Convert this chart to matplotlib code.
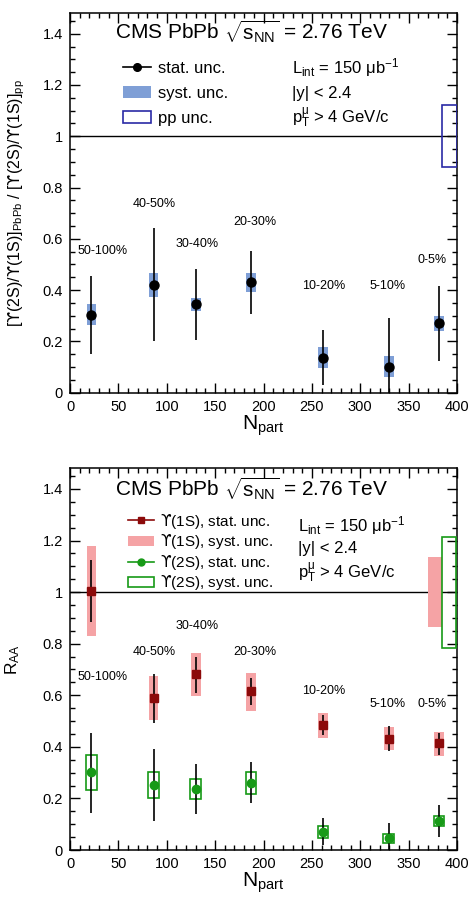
import matplotlib
matplotlib.use("agg")
import matplotlib.pyplot as plt
from matplotlib.lines import Line2D
from matplotlib.patches import Patch
from matplotlib.ticker import MultipleLocator

plt.rcParams["font.family"] = ["Liberation Sans", "DejaVu Sans"]
plt.rcParams["mathtext.fontset"] = "custom"
plt.rcParams["mathtext.rm"] = "Liberation Sans"
plt.rcParams["mathtext.it"] = "Liberation Sans"
plt.rcParams["mathtext.sf"] = "DejaVu Sans"  # used for the hooked upsilon

# --- data ---
npart = [22.1, 86.3, 130.0, 187.1, 261.4, 329.4, 381.3]
centrality = ["50-100%", "40-50%", "30-40%", "20-30%", "10-20%", "5-10%", "0-5%"]

# double ratio [Y(2S)/Y(1S)]_PbPb / [Y(2S)/Y(1S)]_pp
dr_val = [0.304, 0.421, 0.345, 0.430, 0.137, 0.102, 0.271]
dr_stat_lo = [0.150, 0.200, 0.207, 0.306, 0.030, 0.000, 0.124]
dr_stat_hi = [0.457, 0.641, 0.483, 0.553, 0.246, 0.291, 0.416]
dr_syst_lo = [0.264, 0.373, 0.319, 0.391, 0.097, 0.060, 0.240]
dr_syst_hi = [0.345, 0.468, 0.370, 0.468, 0.179, 0.145, 0.300]
pp_unc = [0.88, 1.12]

# R_AA Y(1S)
r1_val = [1.004, 0.591, 0.681, 0.615, 0.486, 0.432, 0.413]
r1_stat_lo = [0.884, 0.494, 0.609, 0.561, 0.445, 0.385, 0.370]
r1_stat_hi = [1.125, 0.684, 0.748, 0.668, 0.525, 0.480, 0.455]
r1_syst_lo = [0.828, 0.503, 0.597, 0.539, 0.436, 0.387, 0.364]
r1_syst_hi = [1.180, 0.675, 0.765, 0.688, 0.532, 0.477, 0.458]
r1_glob = [0.865, 1.135]

# R_AA Y(2S)
r2_val = [0.301, 0.252, 0.237, 0.261, 0.070, 0.045, 0.112]
r2_stat_lo = [0.145, 0.114, 0.139, 0.183, 0.019, 0.000, 0.052]
r2_stat_hi = [0.455, 0.390, 0.335, 0.341, 0.123, 0.106, 0.173]
r2_syst_lo = [0.232, 0.203, 0.197, 0.217, 0.048, 0.027, 0.092]
r2_syst_hi = [0.369, 0.302, 0.277, 0.303, 0.092, 0.063, 0.133]
r2_glob = [0.785, 1.213]

# label positions (x, y) for centrality bins
lab_x = [34, 87.5, 131.5, 191.5, 262, 328, 374.5]
lab_y_top = [0.553, 0.735, 0.581, 0.667, 0.417, 0.417, 0.517]
lab_y_bot = [0.672, 0.769, 0.868, 0.766, 0.617, 0.565, 0.565]

BLUE = "#7f9fd6"
NAVY = "#2a2aa6"
PINK = "#f5a3a5"
DRED = "#8c0a0a"
GREEN = "#179a17"

UPS = r"$\mathsf{ϒ}$"

fig = plt.figure(figsize=(4.74, 9.09), dpi=100, facecolor="white")
ax1 = fig.add_axes([0.1477, 0.568, 0.8165, 0.4175])
ax2 = fig.add_axes([0.1477, 0.0649, 0.8165, 0.4199])


def style(ax):
    ax.set_xlim(0, 400)
    ax.set_ylim(0, 1.48)
    ax.xaxis.set_major_locator(MultipleLocator(50))
    ax.xaxis.set_minor_locator(MultipleLocator(10))
    ax.yaxis.set_major_locator(MultipleLocator(0.2))
    ax.yaxis.set_minor_locator(MultipleLocator(0.05))
    ax.yaxis.set_major_formatter(plt.FuncFormatter(lambda v, p: f"{v:g}"))
    ax.tick_params(which="both", direction="in", top=True, right=True,
                   labelsize=10.5, width=1)
    ax.tick_params(which="major", length=7.5, pad=5)
    ax.tick_params(which="minor", length=3.8)
    for s in ax.spines.values():
        s.set_linewidth(1.1)
    ax.axhline(1, color="black", lw=1)
    ax.set_xlabel(r"N$_{\mathregular{part}}$", fontsize=15)
    ax.xaxis.set_label_coords(0.5, -0.055)


def box_heights(lo, hi):
    return [h - l for l, h in zip(lo, hi)]


def err(val, lo, hi):
    return [[v - l for v, l in zip(val, lo)], [h - v for v, h in zip(val, hi)]]


# --- top panel ---
style(ax1)
ax1.bar(npart, box_heights(dr_syst_lo, dr_syst_hi), bottom=dr_syst_lo,
        width=10, color=BLUE, lw=0, zorder=2)
ax1.bar([392], [pp_unc[1] - pp_unc[0]], bottom=[pp_unc[0]], width=15.5,
        facecolor="none", edgecolor=NAVY, lw=1.2, zorder=3)
ax1.errorbar(npart, dr_val, yerr=err(dr_val, dr_stat_lo, dr_stat_hi),
             fmt="o", color="black", ms=6.5, elinewidth=1.2, capsize=0, zorder=4)
for x, y, t in zip(lab_x, lab_y_top, centrality):
    ax1.text(x, y, t, fontsize=9, ha="center", va="center")

title = r"CMS PbPb $\sqrt{\mathregular{s}_{\mathregular{NN}}}$ = 2.76 TeV"
ax1.text(0.469, 0.951, title, transform=ax1.transAxes, fontsize=15,
         ha="center", va="center")
h1 = [Line2D([], [], color="black", marker="o", ms=5.5, lw=1.2),
      Patch(facecolor=BLUE, edgecolor="none"),
      Patch(facecolor="none", edgecolor=NAVY, lw=1.2)]
ax1.legend(h1, ["stat. unc.", "syst. unc.", "pp unc."], loc="upper left",
           bbox_to_anchor=(0.137, 0.874), frameon=False, fontsize=12,
           handlelength=1.7, handletextpad=0.4, labelspacing=0.6,
           borderpad=0, borderaxespad=0)
info = [r"L$_{\mathregular{int}}$ = 150 $\mathregular{\mu}$b$^{\mathregular{-1}}$",
        r"|y| < 2.4",
        r"p$_{\mathregular{T}}^{\mathregular{\mu}}$ > 4 GeV/c"]
for t, y in zip(info, [0.856, 0.789, 0.723]):
    ax1.text(0.573, y, t, transform=ax1.transAxes, fontsize=12, va="center")
ax1.set_ylabel("[" + UPS + "(2S)/" + UPS + r"(1S)]$_{\mathregular{PbPb}}$ / ["
               + UPS + "(2S)/" + UPS + r"(1S)]$_{\mathregular{pp}}$", fontsize=11.5)
ax1.yaxis.set_label_coords(-0.112, 0.5)

# --- bottom panel ---
style(ax2)
ax2.bar(npart, box_heights(r1_syst_lo, r1_syst_hi), bottom=r1_syst_lo,
        width=10, color=PINK, lw=0, zorder=2)
ax2.bar(npart, box_heights(r2_syst_lo, r2_syst_hi), bottom=r2_syst_lo,
        width=11, facecolor="none", edgecolor=GREEN, lw=1.2, zorder=3)
ax2.bar([377], [r1_glob[1] - r1_glob[0]], bottom=[r1_glob[0]], width=14.5,
        color=PINK, lw=0, zorder=2)
ax2.bar([391.7], [r2_glob[1] - r2_glob[0]], bottom=[r2_glob[0]], width=14.5,
        facecolor="none", edgecolor=GREEN, lw=1.2, zorder=3)
ax2.errorbar(npart, r1_val, yerr=err(r1_val, r1_stat_lo, r1_stat_hi),
             fmt="s", color=DRED, ecolor="black", ms=5.5, elinewidth=1.2,
             capsize=0, zorder=4)
ax2.errorbar(npart, r2_val, yerr=err(r2_val, r2_stat_lo, r2_stat_hi),
             fmt="o", color=GREEN, ecolor="black", ms=6, elinewidth=1.2,
             capsize=0, zorder=4)
for x, y, t in zip(lab_x, lab_y_bot, centrality):
    ax2.text(x, y, t, fontsize=9, ha="center", va="center")

ax2.text(0.469, 0.948, title, transform=ax2.transAxes, fontsize=15,
         ha="center", va="center")
h2 = [Line2D([], [], color=DRED, marker="s", ms=5, lw=1.2, mfc=DRED, mec=DRED),
      Patch(facecolor=PINK, edgecolor="none"),
      Line2D([], [], color=GREEN, marker="o", ms=5, lw=1.2),
      Patch(facecolor="none", edgecolor=GREEN, lw=1.2)]
ax2.legend(h2, [UPS + "(1S), stat. unc.", UPS + "(1S), syst. unc.",
                UPS + "(2S), stat. unc.", UPS + "(2S), syst. unc."],
           loc="upper left", bbox_to_anchor=(0.15, 0.886), frameon=False,
           fontsize=11, handlelength=1.7, handletextpad=0.4, labelspacing=0.1,
           borderpad=0, borderaxespad=0)
for t, y in zip(info, [0.851, 0.791, 0.726]):
    ax2.text(0.589, y, t, transform=ax2.transAxes, fontsize=12, va="center")
ax2.set_ylabel(r"R$_{\mathregular{AA}}$", fontsize=12.5)
ax2.yaxis.set_label_coords(-0.124, 0.5)

fig.savefig("out.png", dpi=100)
